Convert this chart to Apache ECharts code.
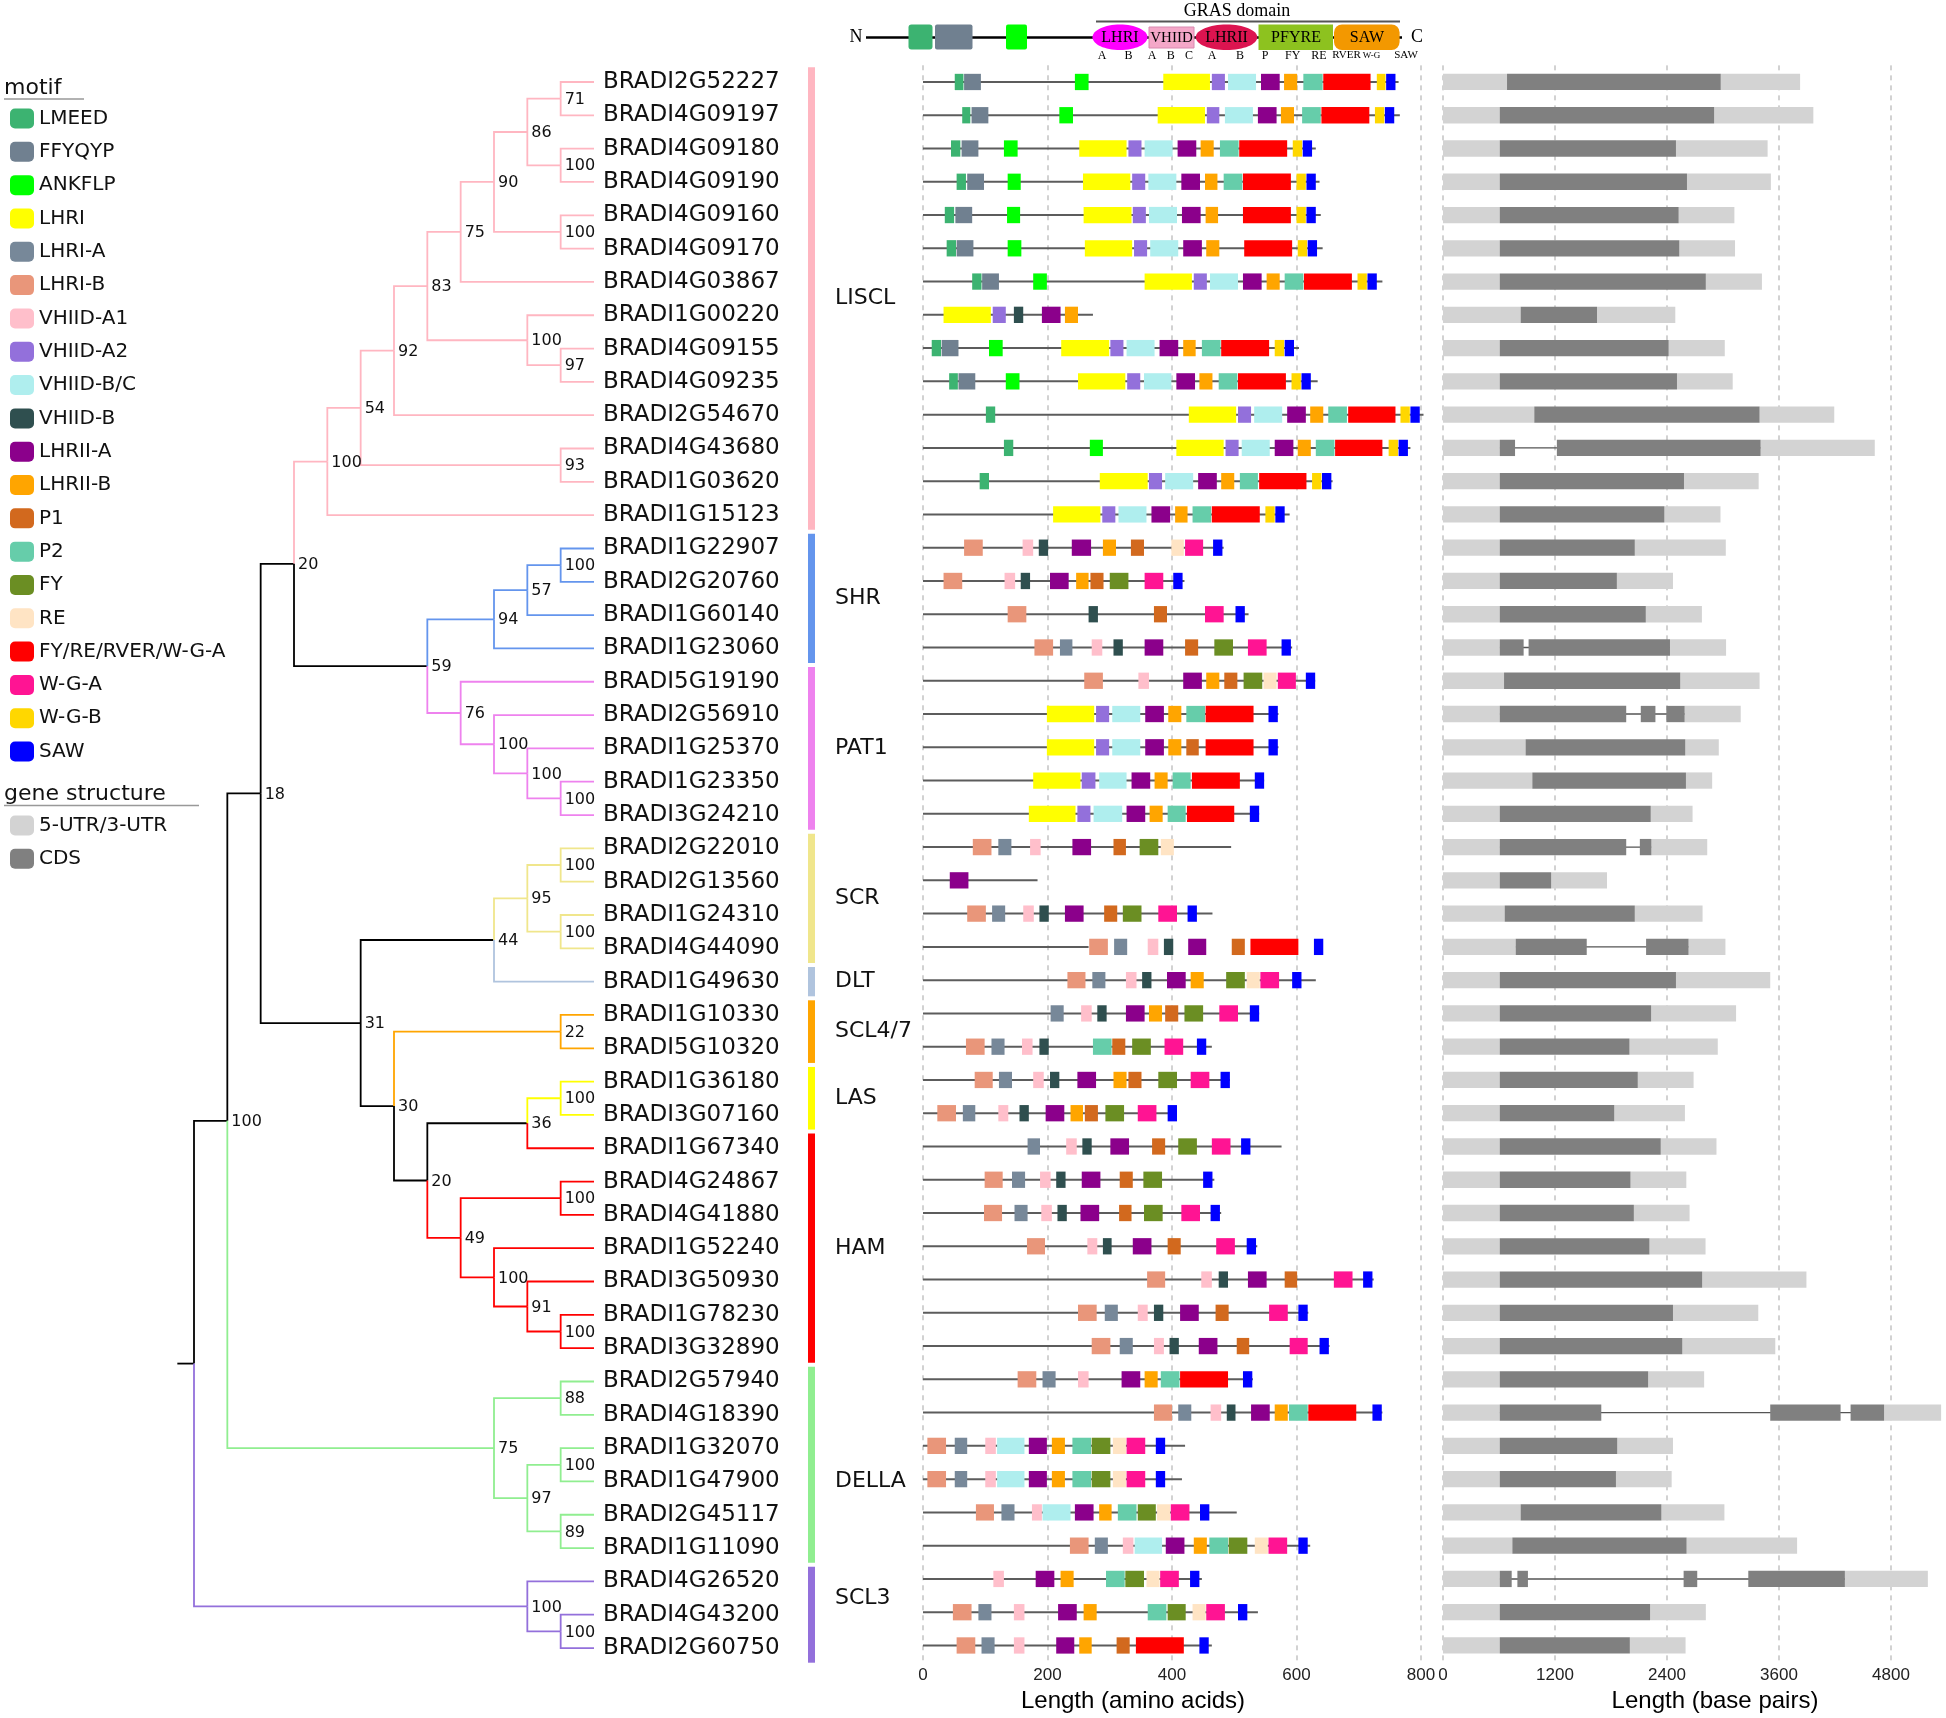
<!DOCTYPE html>
<html><head><meta charset="utf-8">
<script src="https://cdn.jsdelivr.net/npm/echarts@6/dist/echarts.min.js"></script>
<style>html,body{margin:0;padding:0;background:#fff}#c{width:1946px;height:1718px}</style>
</head><body><div id="c"></div>
<script>
// ---------------- DATA ----------------
const genes = ['BRADI2G52227','BRADI4G09197','BRADI4G09180','BRADI4G09190','BRADI4G09160','BRADI4G09170','BRADI4G03867','BRADI1G00220','BRADI4G09155','BRADI4G09235','BRADI2G54670','BRADI4G43680','BRADI1G03620','BRADI1G15123','BRADI1G22907','BRADI2G20760','BRADI1G60140','BRADI1G23060','BRADI5G19190','BRADI2G56910','BRADI1G25370','BRADI1G23350','BRADI3G24210','BRADI2G22010','BRADI2G13560','BRADI1G24310','BRADI4G44090','BRADI1G49630','BRADI1G10330','BRADI5G10320','BRADI1G36180','BRADI3G07160','BRADI1G67340','BRADI4G24867','BRADI4G41880','BRADI1G52240','BRADI3G50930','BRADI1G78230','BRADI3G32890','BRADI2G57940','BRADI4G18390','BRADI1G32070','BRADI1G47900','BRADI2G45117','BRADI1G11090','BRADI4G26520','BRADI4G43200','BRADI2G60750'];

const cladeNames = ['LISCL','SHR','PAT1','SCR','DLT','SCL4/7','LAS','HAM','DELLA','SCL3'];
const cladeFirstRow = [0,14,18,23,27,28,30,32,39,45];
const cladeLastRow = [13,17,22,26,27,29,31,38,44,47];
const cladeLabelRow = [6.5,15.5,20,24.5,27,28.5,30.5,35,42,45.5];
const cladeColors = ['#FFB6C1','#6495ED','#EE82EE','#F0E68C','#B0C4DE','#FFA500','#FFFF00','#FF0000','#90EE90','#9370DB'];

// tree: internal nodes (depth level, parent node, bootstrap, edge colour)
const nodeDepth   = [0,1,2,3,4,5,6,7,8,9,10,11,11,11,10,11,11,7,9,10,11,8,9,10,11,5,9,10,11,11,6,11,7,10,11,8,11,9,10,11,9,11,10,11,11,10,11];
const nodeParent  = [-1,0,1,2,3,4,5,6,7,8,9,10,10,9,7,14,5,3,17,18,19,17,21,22,23,2,25,26,27,27,25,30,30,32,33,32,35,35,37,38,1,40,40,42,42,0,45];
const nodeSupport = ['',100,18,20,100,54,92,83,75,90,86,71,100,100,100,97,93,59,94,57,100,76,100,100,100,31,44,95,100,100,30,22,20,36,100,49,100,100,91,100,75,88,97,100,89,100,100];
const nodeEdgeColor = ['#000','#000','#000','#000','#FFB6C1','#FFB6C1','#FFB6C1','#FFB6C1','#FFB6C1','#FFB6C1','#FFB6C1','#FFB6C1','#FFB6C1','#FFB6C1','#FFB6C1','#FFB6C1','#FFB6C1','#000','#6495ED','#6495ED','#6495ED','#EE82EE','#EE82EE','#EE82EE','#EE82EE','#000','#000','#F0E68C','#F0E68C','#F0E68C','#000','#FFA500','#000','#000','#FFFF00','#FF0000','#FF0000','#FF0000','#FF0000','#FF0000','#90EE90','#90EE90','#90EE90','#90EE90','#90EE90','#9370DB','#9370DB'];
const leafParent = [11,11,12,12,13,13,8,14,15,15,6,16,16,4, 20,20,19,18, 21,22,23,24,24, 28,28,29,29, 26, 31,31, 34,34, 33,36,36,37,38,39,39, 41,41,43,43,44,44, 45,46,46];

const motifNames  = ['LMEED','FFYQYP','ANKFLP','LHRI','LHRI-A','LHRI-B','VHIID-A1','VHIID-A2','VHIID-B/C','VHIID-B','LHRII-A','LHRII-B','P1','P2','FY','RE','FY/RE/RVER/W-G-A','W-G-A','W-G-B','SAW'];
const motifCodes  = ['LM','FF','AN','L1','LA','LB','A1','A2','BC','VB','HA','HB','P1','P2','FY','RE','R','WA','WB','SW'];
const motifColors = ['#3CB371','#708090','#00FF00','#FFFF00','#778899','#E9967A','#FFBFCB','#9370DB','#AFEEEE','#2F4F4F','#8B008B','#FFA500','#D2691E','#66CDAA','#6B8E23','#FFE4C4','#FF0000','#FF1493','#FFD700','#0000FF'];

const proteinLength = [764,766,631,637,639,642,738,273,604,634,804,783,658,589,483,420,523,593,630,571,571,548,540,495,184,465,266,631,540,464,493,408,576,468,479,537,724,619,653,530,738,421,416,504,622,448,538,464];

const motifsLISCL = [
 [['LM',51,65],['FF',66,93],['AN',244,266],['L1',386,461],['A2',464,485],['BC',490,535],['HA',543,573],['HB',580,601],['P2',611,642],['R',643,719],['WB',729,743],['SW',744,759]],
 [['LM',63,76],['FF',78,105],['AN',219,241],['L1',377,453],['A2',456,476],['BC',485,530],['HA',538,568],['HB',575,596],['P2',609,639],['R',640,717],['WB',726,741],['SW',742,757]],
 [['LM',45,60],['FF',62,89],['AN',130,152],['L1',251,327],['A2',330,351],['BC',356,401],['HA',409,439],['HB',446,467],['P2',477,507],['R',508,585],['WB',594,609],['SW',610,625]],
 [['LM',54,69],['FF',71,98],['AN',136,157],['L1',257,333],['A2',336,357],['BC',362,407],['HA',415,445],['HB',453,473],['P2',483,513],['R',514,591],['WB',600,615],['SW',616,631]],
 [['LM',35,50],['FF',52,79],['AN',135,156],['L1',258,335],['A2',337,358],['BC',363,408],['HA',416,446],['HB',454,474],['R',514,591],['WB',600,615],['SW',616,631]],
 [['LM',38,53],['FF',54,81],['AN',136,158],['L1',260,336],['A2',339,360],['BC',365,410],['HA',418,448],['HB',455,476],['R',516,593],['WB',602,617],['SW',618,633]],
 [['LM',79,94],['FF',95,122],['AN',177,199],['L1',356,432],['A2',435,456],['BC',461,506],['HA',514,544],['HB',552,573],['P2',581,611],['R',612,689],['WB',698,713],['SW',714,729]],
 [['L1',33,109],['A2',112,133],['VB',146,161],['HA',191,221],['HB',228,249]],
 [['LM',14,29],['FF',30,57],['AN',106,128],['L1',222,299],['A2',301,322],['BC',327,372],['HA',380,410],['HB',418,438],['P2',448,478],['R',479,556],['WB',565,580],['SW',581,596]],
 [['LM',42,56],['FF',57,84],['AN',133,155],['L1',249,325],['A2',328,349],['BC',355,399],['HA',407,437],['HB',444,465],['P2',475,505],['R',506,583],['WB',592,607],['SW',608,623]],
 [['LM',101,116],['L1',427,503],['A2',506,527],['BC',532,577],['HA',585,615],['HB',622,643],['P2',651,681],['R',683,759],['WB',767,782],['SW',783,798]],
 [['LM',130,145],['AN',268,289],['L1',407,483],['A2',486,507],['BC',512,557],['HA',565,595],['HB',602,623],['P2',631,661],['R',662,738],['WB',748,763],['SW',764,779]],
 [['LM',91,106],['L1',284,361],['A2',363,384],['BC',389,434],['HA',442,472],['HB',479,500],['P2',509,538],['R',540,616],['WB',625,640],['SW',641,656]],
 [['L1',209,285],['A2',288,309],['BC',314,359],['HA',367,397],['HB',405,425],['P2',433,463],['R',464,541],['WB',550,565],['SW',566,581]]
];
const motifsSHR = [
 [['LB',66,96],['A1',160,177],['VB',186,201],['HA',239,270],['HB',289,310],['P1',334,355],['RE',399,419],['WA',421,450],['SW',466,481]],
 [['LB',33,63],['A1',131,148],['VB',157,172],['HA',204,234],['HB',246,266],['P1',269,290],['FY',300,330],['WA',356,386],['SW',402,417]],
 [['LB',136,166],['VB',266,281],['P1',371,392],['WA',453,483],['SW',502,517]],
 [['LB',179,209],['LA',220,240],['A1',271,288],['VB',306,321],['HA',356,386],['P1',421,442],['FY',468,498],['WA',522,552],['SW',576,591]]
];
const motifsPAT1 = [
 [['LB',259,289],['A1',346,363],['HA',418,448],['HB',455,476],['P1',484,505],['FY',515,545],['RE',547,568],['WA',570,599],['SW',615,630]],
 [['L1',199,275],['A2',278,299],['BC',304,349],['HA',357,387],['HB',394,415],['P2',423,453],['R',454,531],['SW',555,570]],
 [['L1',199,275],['A2',278,299],['BC',304,349],['HA',357,387],['HB',394,415],['P1',423,443],['R',454,531],['SW',555,570]],
 [['L1',177,253],['A2',255,277],['BC',283,327],['HA',335,365],['HB',372,393],['P2',401,430],['R',432,509],['SW',533,548]],
 [['L1',170,245],['A2',248,269],['BC',274,320],['HA',327,357],['HB',364,385],['P2',393,422],['R',424,500],['SW',525,540]]
];
const motifsSCR = [
 [['LB',80,110],['LA',121,142],['A1',172,189],['HA',240,270],['P1',306,326],['FY',348,378],['RE',382,403]],
 [['HA',43,73]],
 [['LB',71,101],['LA',111,132],['A1',161,178],['VB',187,202],['HA',228,258],['P1',291,312],['FY',321,351],['WA',378,408],['SW',425,440]],
 [['LB',267,297],['LA',307,328],['A1',361,378],['VB',387,402],['HA',426,455],['P1',496,517],['R',526,603],['SW',628,643]]
];
const motifsDLT = [
 [['LB',232,261],['LA',272,293],['A1',326,343],['VB',352,367],['HA',392,422],['HB',430,451],['FY',487,517],['RE',520,541],['WA',542,572],['SW',593,608]]
];
const motifsSCL47 = [
 [['LA',205,226],['A1',254,271],['VB',280,295],['HA',326,356],['HB',363,384],['P1',389,410],['FY',420,450],['WA',476,506],['SW',525,540]],
 [['LB',69,99],['LA',110,131],['A1',159,176],['VB',187,202],['P2',273,303],['P1',304,325],['FY',336,366],['WA',388,418],['SW',440,455]]
];
const motifsLAS = [
 [['LB',83,112],['LA',122,143],['A1',177,194],['VB',204,219],['HA',248,278],['HB',306,327],['P1',330,351],['FY',378,408],['WA',430,460],['SW',478,493]],
 [['LB',23,53],['LA',64,84],['A1',121,137],['VB',155,170],['HA',197,227],['HB',237,257],['P1',260,281],['FY',293,323],['WA',345,375],['SW',393,408]]
];
const motifsHAM = [
 [['LA',168,188],['A1',230,247],['VB',256,271],['HA',301,331],['P1',368,389],['FY',410,440],['WA',464,494],['SW',511,526]],
 [['LB',99,128],['LA',143,164],['A1',188,205],['VB',214,229],['HA',255,285],['P1',316,337],['FY',354,384],['SW',450,465]],
 [['LB',98,127],['LA',147,168],['A1',190,207],['VB',216,231],['HA',253,283],['P1',315,335],['FY',355,385],['WA',415,445],['SW',462,477]],
 [['LB',167,196],['A1',264,280],['VB',289,303],['HA',337,367],['P1',393,414],['WA',471,501],['SW',520,535]],
 [['LB',360,389],['A1',447,464],['VB',475,490],['HA',522,552],['P1',581,601],['WA',660,690],['SW',707,722]],
 [['LB',249,279],['LA',292,313],['A1',345,361],['VB',371,386],['HA',413,443],['P1',470,491],['WA',556,586],['SW',603,618]],
 [['LB',271,301],['LA',316,337],['A1',371,387],['VB',396,411],['HA',443,473],['P1',504,524],['WA',589,618],['SW',637,652]]
];
const motifsDELLA = [
 [['LB',152,182],['LA',192,213],['A1',249,266],['HA',319,349],['HB',356,377],['P2',382,412],['R',413,490],['SW',514,529]],
 [['LB',371,400],['LA',410,431],['A1',462,479],['VB',488,502],['HA',527,557],['HB',565,586],['P2',588,618],['R',619,696],['SW',722,737]],
 [['LB',7,37],['LA',51,71],['A1',100,117],['BC',119,163],['HA',170,199],['HB',207,228],['P2',240,270],['FY',271,301],['RE',305,326],['WA',327,357],['SW',374,389]],
 [['LB',7,37],['LA',51,71],['A1',100,117],['BC',119,163],['HA',170,199],['HB',207,228],['P2',240,270],['FY',271,301],['RE',305,326],['WA',327,357],['SW',374,389]],
 [['LB',85,114],['LA',126,147],['A1',175,191],['BC',192,237],['HA',244,274],['HB',283,303],['P2',313,343],['FY',345,374],['RE',376,397],['WA',398,428],['SW',445,460]],
 [['LB',236,266],['LA',276,297],['A1',321,338],['BC',340,384],['HA',390,420],['HB',435,456],['P2',460,490],['FY',491,521],['RE',533,554],['WA',555,585],['SW',603,618]]
];
const motifsSCL3 = [
 [['A1',113,130],['HA',181,211],['HB',221,242],['P2',294,324],['FY',325,355],['RE',359,380],['WA',381,411],['SW',429,444]],
 [['LB',48,78],['LA',89,110],['A1',146,163],['HA',217,247],['HB',258,279],['P2',361,391],['FY',393,422],['RE',433,454],['WA',455,485],['SW',506,521]],
 [['LB',54,84],['LA',94,115],['A1',146,163],['HA',214,243],['HB',251,271],['P1',311,332],['R',342,419],['SW',444,459]]
];

// gene structure (base pairs): total length and CDS exons [start,end,...]
const geneLength = [3826,3968,3478,3513,3122,3129,3417,2489,3019,3104,4192,4626,3382,2973,3030,2464,2774,3033,3392,3190,2955,2884,2674,2831,1757,2781,3026,3506,3140,2944,2685,2592,2930,2607,2642,2813,3894,3378,3560,2798,5337,2464,2450,3015,3794,5195,2816,2599];
const cdsExons = [
 [686,2976],[608,2905],[608,2496],[608,2614],[608,2525],[608,2532],[608,2816],[832,1650],[608,2418],[608,2507],
 [978,3392],[608,772,1220,3403],[608,2582],[608,2372],[608,2055],[608,1863],[608,2173],[608,864,917,2432],
 [654,2542],[608,1963,2119,2276,2393,2589],[885,2596],[957,2603],[608,2226],[608,1963,2109,2233],[608,1159],
 [661,2055],[779,1540,2176,2631],[608,2496],[608,2230],[608,1998],[608,2087],[608,1835],[608,2333],[608,2009],
 [608,2045],[608,2212],[608,2777],[608,2464],[608,2564],[608,2198],[608,1696,3506,4260,4367,4726],[608,1867],
 [608,1853],[832,2340],[743,2610],[608,736,797,910,2578,2724,3271,4306],[608,2219],[608,2002]
];

// ---------------- BUILD ----------------
const N = genes.length;
const TOP = 65.34, H = 48 * 33.32;
const motifRows = [].concat(motifsLISCL, motifsSHR, motifsPAT1, motifsSCR, motifsDLT, motifsSCL47, motifsLAS, motifsHAM, motifsDELLA, motifsSCL3);
const byType = motifCodes.map(() => []);
motifRows.forEach((row, r) => row.forEach(m => byType[motifCodes.indexOf(m[0])].push([r, m[1], m[2]])));

const leafClade = genes.map((g, i) => cladeFirstRow.findIndex((f, k) => i >= f && i <= cladeLastRow[k]));

// tree layout
const kids = nodeDepth.map(() => []);
nodeParent.forEach((p, i) => { if (p >= 0) kids[p].push(['n', i]); });
leafParent.forEach((p, i) => kids[p].push(['l', i]));
const nodeY = [];
function yOf(i) {
  if (nodeY[i] !== undefined) return nodeY[i];
  const ys = kids[i].map(c => c[0] === 'l' ? c[1] : yOf(c[1]));
  nodeY[i] = ys.reduce((a, b) => a + b, 0) / ys.length;
  return nodeY[i];
}
nodeDepth.forEach((d, i) => yOf(i));
const edges = [], edgeColors = [];
edges.push([-0.5, nodeY[0], 0, nodeY[0]]); edgeColors.push('#000');
nodeParent.forEach((p, i) => { if (p >= 0) { edges.push([nodeDepth[p], nodeY[p], nodeDepth[i], nodeY[i]]); edgeColors.push(nodeEdgeColor[i]); } });
leafParent.forEach((p, i) => { edges.push([nodeDepth[p], nodeY[p], 12, i]); edgeColors.push(cladeColors[leafClade[i]]); });
const supportData = nodeDepth.map((d, i) => [d, nodeY[i], nodeSupport[i]]).filter(v => v[2] !== '');

// gene structure pieces
const utrData = [], cdsData = [], intronData = [];
cdsExons.forEach((ex, r) => {
  utrData.push([r, 0, ex[0]]);
  utrData.push([r, ex[ex.length - 1], geneLength[r]]);
  for (let k = 0; k < ex.length; k += 2) cdsData.push([r, ex[k], ex[k + 1]]);
  if (ex.length > 2) intronData.push([r, ex[0], ex[ex.length - 1]]);
});
const backbone = proteinLength.map((l, r) => [r, 0, l]);
const cladeData = cladeNames.map((n, k) => [cladeFirstRow[k], cladeLastRow[k], cladeLabelRow[k]]);

function boxRender(color, frac) {
  return function (params, api) {
    const r = api.value(0), p0 = api.coord([api.value(1), r]), p1 = api.coord([api.value(2), r]);
    const h = api.size([0, 1])[1] * frac;
    return { type: 'rect', shape: { x: p0[0], y: p0[1] - h / 2, width: p1[0] - p0[0], height: h }, style: { fill: color } };
  };
}
function lineRender(color, w) {
  return function (params, api) {
    const r = api.value(0), p0 = api.coord([api.value(1), r]), p1 = api.coord([api.value(2), r]);
    return { type: 'line', shape: { x1: p0[0], y1: p0[1], x2: p1[0], y2: p1[1] }, style: { stroke: color, lineWidth: w } };
  };
}

const hiddenY = (g) => ({ type: 'value', gridIndex: g, min: -0.5, max: 47.5, inverse: true, show: false });
const tickFont = { fontFamily: 'Liberation Sans', fontSize: 17, color: '#222', margin: 5, formatter: v => String(v) };
const nameFont = { fontFamily: 'Liberation Sans', fontSize: 24, color: '#000' };
const dashed = { show: true, lineStyle: { color: '#c4c4c4', type: [5, 5], width: 1.5 } };

const series = [];
series.push({ type: 'custom', name: 'tree', xAxisIndex: 0, yAxisIndex: 0, data: edges, silent: true,
  renderItem: (params, api) => {
    const a = api.coord([api.value(0), api.value(1)]), b = api.coord([api.value(0), api.value(3)]), c = api.coord([api.value(2), api.value(3)]);
    return { type: 'polyline', shape: { points: [a, b, c] }, style: { stroke: edgeColors[params.dataIndex], lineWidth: 1.8, fill: null } };
  } });
series.push({ type: 'custom', name: 'support', xAxisIndex: 0, yAxisIndex: 0, data: supportData, silent: true,
  renderItem: (params, api) => {
    const p = api.coord([api.value(0), api.value(1)]);
    return { type: 'text', x: p[0] + 4, y: p[1] + 1, style: { text: String(supportData[params.dataIndex][2]), fill: '#111', font: '16px "DejaVu Sans"', textAlign: 'left', textVerticalAlign: 'middle' } };
  } });
series.push({ type: 'custom', name: 'clades', xAxisIndex: 1, yAxisIndex: 2, data: cladeData, silent: true,
  renderItem: (params, api) => {
    const k = params.dataIndex;
    const a = api.coord([8, api.value(0) - 0.5]), b = api.coord([15, api.value(1) + 0.5]), t = api.coord([35, api.value(2)]);
    return { type: 'group', children: [
      { type: 'rect', shape: { x: a[0], y: a[1] + 2, width: b[0] - a[0], height: b[1] - a[1] - 4 }, style: { fill: cladeColors[k] } },
      { type: 'text', x: t[0], y: t[1], style: { text: cladeNames[k], fill: '#111', font: '22px "DejaVu Sans"', textAlign: 'left', textVerticalAlign: 'middle' } }
    ] };
  } });
series.push({ type: 'custom', name: 'backbone', xAxisIndex: 2, yAxisIndex: 3, data: backbone, silent: true, encode: { x: [1, 2], y: 0 }, renderItem: lineRender('#5c5c5c', 2) });
motifNames.forEach((n, k) => {
  series.push({ type: 'custom', name: n, xAxisIndex: 2, yAxisIndex: 3, data: byType[k], encode: { x: [1, 2], y: 0 },
    itemStyle: { color: motifColors[k] }, renderItem: boxRender(motifColors[k], 0.49) });
});
series.push({ type: 'custom', name: 'intron', xAxisIndex: 3, yAxisIndex: 4, data: intronData, silent: true, encode: { x: [1, 2], y: 0 }, renderItem: lineRender('#555', 1.4) });
series.push({ type: 'custom', name: '5-UTR/3-UTR', xAxisIndex: 3, yAxisIndex: 4, data: utrData, encode: { x: [1, 2], y: 0 }, itemStyle: { color: '#D3D3D3' }, renderItem: boxRender('#D3D3D3', 0.49) });
series.push({ type: 'custom', name: 'CDS', xAxisIndex: 3, yAxisIndex: 4, data: cdsData, encode: { x: [1, 2], y: 0 }, itemStyle: { color: '#808080' }, renderItem: boxRender('#808080', 0.49) });

// header schematic (decoration)
const hy = 37.5, serif = '"Liberation Serif"';
const T = (t, x, y, size) => ({ type: 'text', x, y, silent: true, style: { text: t, fill: '#000', font: size + 'px ' + serif, textAlign: 'center', textVerticalAlign: 'middle' } });
const subLabels = [['A',1102],['B',1128.5],['A',1152],['B',1170.8],['C',1189],['A',1212],['B',1240],['P',1265],['FY',1292.7],['RE',1318.8],['RVER',1346.5],['W-G',1371.5],['SAW',1406]];
const graphic = [
  { type: 'line', silent: true, shape: { x1: 866, y1: hy, x2: 1402, y2: hy }, style: { stroke: '#000', lineWidth: 2.6 } },
  T('N', 856, hy, 18), T('C', 1417, hy, 18),
  { type: 'rect', shape: { x: 908.5, y: 24.5, width: 24, height: 25, r: 3 }, style: { fill: '#3CB371' } },
  { type: 'rect', shape: { x: 935, y: 24.5, width: 37.5, height: 25, r: 2 }, style: { fill: '#708090' } },
  { type: 'rect', shape: { x: 1006, y: 24.5, width: 21, height: 25, r: 2 }, style: { fill: '#00FF00' } },
  { type: 'line', shape: { x1: 1096, y1: 21.5, x2: 1400, y2: 21.5 }, style: { stroke: '#555', lineWidth: 2 } },
  T('GRAS domain', 1237, 11, 18),
  { type: 'ellipse', shape: { cx: 1120, cy: 37.3, rx: 27.5, ry: 12.8 }, style: { fill: '#FF00FF' } },
  T('LHRI', 1120, 38, 16),
  { type: 'rect', shape: { x: 1149, y: 27, width: 45, height: 21 }, style: { fill: '#F4A7C8', stroke: '#D98AB0', lineWidth: 1 } },
  T('VHIID', 1171.5, 38, 15),
  { type: 'ellipse', shape: { cx: 1226.5, cy: 37.3, rx: 30.8, ry: 12.8 }, style: { fill: '#DC1450' } },
  T('LHRII', 1226.5, 38, 16),
  { type: 'rect', shape: { x: 1258.5, y: 24.5, width: 74.5, height: 25.5 }, style: { fill: '#8DC21F' } },
  T('PFYRE', 1296, 38, 16),
  { type: 'rect', shape: { x: 1334, y: 24.5, width: 65.6, height: 25.5, r: 8 }, style: { fill: '#F39800' } },
  T('SAW', 1367, 38, 16),
  ...subLabels.map(s => T(s[0], s[1], 55.5, s[0] === 'W-G' ? 9 : (s[0].length > 2 ? 11 : 12))),
  // legend headings
  { type: 'text', x: 4, y: 88, style: { text: 'motif', fill: '#111', font: '22px "DejaVu Sans"', textAlign: 'left', textVerticalAlign: 'middle' } },
  { type: 'line', shape: { x1: 4, y1: 99, x2: 84, y2: 99 }, style: { stroke: '#999', lineWidth: 1.5 } },
  { type: 'text', x: 4, y: 794.5, style: { text: 'gene structure', fill: '#111', font: '22px "DejaVu Sans"', textAlign: 'left', textVerticalAlign: 'middle' } },
  { type: 'line', shape: { x1: 4, y1: 805.5, x2: 199, y2: 805.5 }, style: { stroke: '#999', lineWidth: 1.5 } }
];

const legendBase = { orient: 'vertical', left: 5, itemWidth: 24, itemHeight: 20, itemGap: 13.32, icon: 'roundRect', selectedMode: false,
  textStyle: { fontFamily: 'DejaVu Sans', fontSize: 20, color: '#111', lineHeight: 20 } };

const option = {
  animation: false,
  backgroundColor: '#fff',
  textStyle: { fontFamily: 'DejaVu Sans' },
  grid: [
    { left: 194, top: TOP, width: 400, height: H },
    { left: 800, top: TOP, width: 100, height: H },
    { left: 923, top: TOP, width: 498, height: H },
    { left: 1443, top: TOP, width: 448, height: H }
  ],
  xAxis: [
    { type: 'value', gridIndex: 0, min: 0, max: 12, show: false },
    { type: 'value', gridIndex: 1, min: 0, max: 100, show: false },
    { type: 'value', gridIndex: 2, min: 0, max: 800, interval: 200, axisLine: { show: false }, axisTick: { show: false },
      axisLabel: tickFont, splitLine: dashed, name: 'Length (amino acids)', nameLocation: 'middle', nameGap: 20,
      nameTextStyle: Object.assign({ padding: [0, 78, 0, 0] }, nameFont) },
    { type: 'value', gridIndex: 3, min: 0, max: 4800, interval: 1200, axisLine: { show: false }, axisTick: { show: false },
      axisLabel: tickFont, splitLine: dashed, name: 'Length (base pairs)', nameLocation: 'middle', nameGap: 20,
      nameTextStyle: Object.assign({ padding: [0, 0, 0, 96] }, nameFont) }
  ],
  yAxis: [
    hiddenY(0),
    { type: 'category', gridIndex: 0, data: genes, inverse: true, position: 'right', axisLine: { show: false }, axisTick: { show: false },
      splitLine: { show: false }, axisLabel: { align: 'left', margin: 9, fontFamily: 'DejaVu Sans', fontSize: 23, color: '#111', interval: 0 } },
    hiddenY(1), hiddenY(2), hiddenY(3)
  ],
  legend: [
    Object.assign({ data: motifNames, top: 103.5 }, legendBase),
    Object.assign({ data: ['5-UTR/3-UTR', 'CDS'], top: 810.5 }, legendBase)
  ],
  graphic: graphic,
  series: series
};
const chart = echarts.init(document.getElementById('c'), null, { renderer: 'canvas' });
chart.setOption(option);
</script>
</body></html>
